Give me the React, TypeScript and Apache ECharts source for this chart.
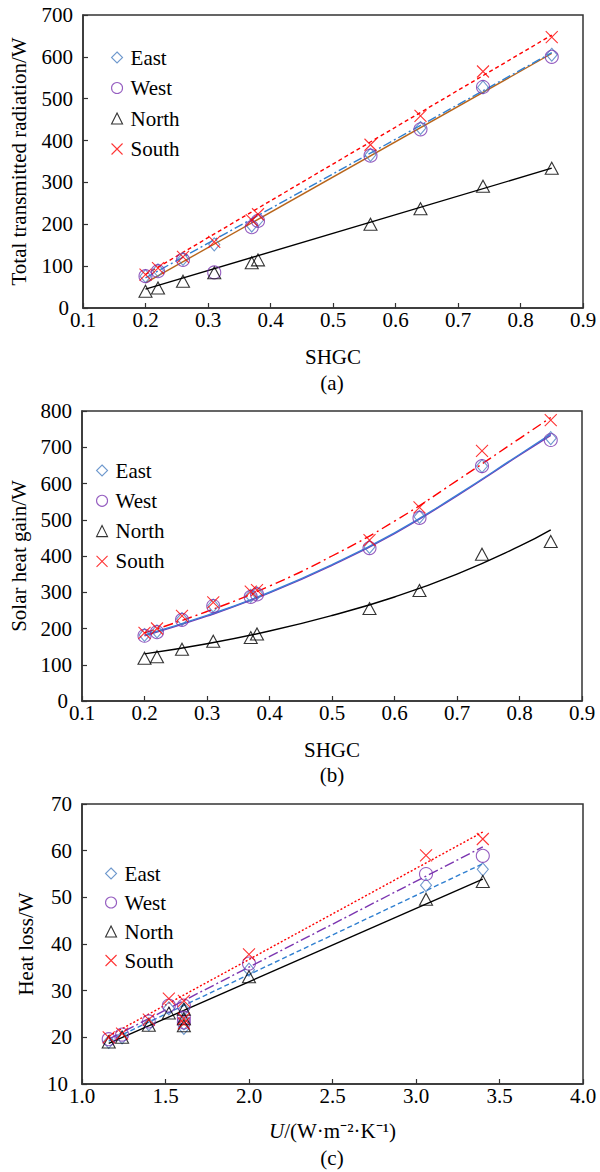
import React, { useEffect, useRef } from 'react';
import * as echarts from 'echarts';

// ---------- Panel (a): total transmitted radiation ----------
const shgc = [0.2, 0.22, 0.26, 0.31, 0.37, 0.38, 0.56, 0.64, 0.74, 0.85];
const radEast = [76, 90, 117, 152, 197, 210, 366, 430, 527, 605];
const radWest = [76, 88, 115, 85, 193, 208, 364, 427, 528, 600];
const radNorth = [40, 48, 64, 84, 108, 115, 200, 237, 291, 334];
const radSouth = [80, 95, 122, 158, 210, 224, 390, 459, 565, 647];
const radFitX = [0.2, 0.85];
const radFitEast = [72, 610];
const radFitWest = [60, 608];
const radFitNorth = [45, 334];
const radFitSouth = [80, 652];

// ---------- Panel (b): solar heat gain ----------
const gainEast = [182, 192, 226, 263, 290, 297, 425, 508, 648, 725];
const gainWest = [180, 190, 224, 262, 287, 294, 422, 505, 648, 720];
const gainNorth = [118, 122, 143, 165, 175, 185, 255, 305, 405, 440];
const gainSouth = [188, 200, 235, 272, 302, 306, 444, 534, 690, 775];
const gainCurveX = [0.2, 0.3, 0.4, 0.5, 0.6, 0.7, 0.8, 0.85];
const gainCurveEast = [182, 236, 300, 376, 464, 568, 680, 736];
const gainCurveWest = [180, 234, 298, 374, 462, 566, 678, 733];
const gainCurveNorth = [130, 158, 193, 236, 287, 350, 427, 472];
const gainCurveSouth = [188, 247, 317, 400, 496, 608, 724, 782];

// ---------- Panel (c): heat loss ----------
const uValues = [1.16, 1.24, 1.4, 1.52, 1.61, 1.61, 1.61, 2.0, 3.06, 3.4];
const lossEast = [19.0, 20.0, 22.8, 26.2, 26.0, 23.0, 22.0, 34.5, 52.6, 56.0];
const lossWest = [19.6, 20.6, 23.4, 26.8, 26.8, 24.2, 23.2, 35.8, 55.0, 58.9];
const lossNorth = [19.0, 20.0, 22.6, 25.2, 26.0, 24.0, 22.5, 33.0, 49.6, 53.4];
const lossSouth = [20.0, 20.8, 23.8, 28.3, 27.8, 24.0, 23.0, 37.8, 59.0, 62.5];
const lossFitX = [1.16, 3.4];
const lossFitEast = [19.2, 57.2];
const lossFitWest = [19.6, 60.8];
const lossFitNorth = [18.7, 53.9];
const lossFitSouth = [20.3, 64.0];

// ---------- axes ----------
const shgcAxis = [0.1, 0.9, 0.1];
const uAxis = [1.0, 4.0, 0.5];
const radAxis = [0, 700, 100];
const gainAxis = [0, 800, 100];
const lossAxis = [10, 70, 10];

const orientations = ['East', 'West', 'North', 'South'];
const panelLabels = ['(a)', '(b)', '(c)'];

const FONT = 'Liberation Serif';
const FS = 21;
const AX = '#333';

const COLORS: Record<string, string> = {
  East: '#4A7EC0',
  West: '#7B35B0',
  North: '#000000',
  South: '#FF0000',
};
const SYMBOLS: Record<string, string> = {
  East: 'diamond',
  West: 'circle',
  North: 'triangle',
  South: 'path://M0,0L10,10M10,0L0,10',
};
const SIZES: Record<string, number[]> = {
  East: [11, 13],
  West: [13, 13],
  North: [13, 12],
  South: [12, 12],
};

function pairs(xs: number[], ys: number[]) {
  return xs.map((x, i) => [x, ys[i]]);
}

function scatter(name: string, xs: number[], ys: number[], gi: number) {
  return {
    type: 'scatter',
    name,
    xAxisIndex: gi,
    yAxisIndex: gi,
    data: pairs(xs, ys),
    symbol: SYMBOLS[name],
    symbolSize: SIZES[name],
    itemStyle: { color: 'rgba(0,0,0,0)', borderColor: COLORS[name], borderWidth: 1.1 },
    emphasis: { disabled: true },
    z: 5,
  };
}

function fit(xs: number[], ys: number[], gi: number, color: string, type: any, smooth = false, width = 1.4) {
  return {
    type: 'line',
    name: 'fit',
    xAxisIndex: gi,
    yAxisIndex: gi,
    data: pairs(xs, ys),
    showSymbol: false,
    symbol: 'none',
    smooth,
    lineStyle: { color, width, type },
    emphasis: { disabled: true },
    z: 3,
  };
}

const grids = [
  { left: 82, top: 15, width: 501, height: 293 },
  { left: 82, top: 411, width: 500, height: 290 },
  { left: 82, top: 804, width: 501, height: 280 },
];

function xAxisCfg(gi: number, range: number[], name: any, gap: number, rich?: any) {
  return {
    type: 'value',
    gridIndex: gi,
    min: range[0],
    max: range[1],
    interval: range[2],
    name,
    nameLocation: 'middle',
    nameGap: gap,
    nameTextStyle: { fontFamily: FONT, fontSize: FS, color: '#000', rich },
    axisLine: { show: true, onZero: false, lineStyle: { color: AX, width: 1.5 } },
    axisTick: { show: true, inside: true, length: 5, lineStyle: { color: AX, width: 1.2 } },
    axisLabel: {
      fontFamily: FONT,
      fontSize: FS,
      color: '#000',
      margin: 1,
      formatter: (v: number) => v.toFixed(1),
    },
    splitLine: { show: false },
  };
}

function yAxisCfg(gi: number, range: number[], name: string, gap: number) {
  return {
    type: 'value',
    gridIndex: gi,
    min: range[0],
    max: range[1],
    interval: range[2],
    name,
    nameLocation: 'middle',
    nameGap: gap,
    nameTextStyle: { fontFamily: FONT, fontSize: FS, color: '#000' },
    axisLine: { show: true, onZero: false, lineStyle: { color: AX, width: 1.5 } },
    axisTick: { show: true, inside: true, length: 5, lineStyle: { color: AX, width: 1.2 } },
    axisLabel: {
      fontFamily: FONT,
      fontSize: FS,
      color: '#000',
      margin: 10,
      formatter: (v: number) => (v === range[0] ? `{lo|${v}}` : `${v}`),
      rich: { lo: { fontFamily: FONT, fontSize: FS, color: '#000', padding: [0, 4, 0, 0] } },
    },
    splitLine: { show: false },
  };
}

function legendCfg(left: number, top: number, gap: number) {
  return {
    orient: 'vertical',
    left,
    top,
    padding: 0,
    itemGap: gap,
    itemWidth: 11,
    itemHeight: 11,
    data: orientations,
    selectedMode: false,
    itemStyle: { borderWidth: 1.1 },
    textStyle: { fontFamily: FONT, fontSize: FS, color: '#000', padding: [0, 0, 0, 3] },
  };
}

export default function App() {
  const ref = useRef<HTMLDivElement>(null);
  useEffect(() => {
    if (!ref.current) return;
    const chart = echarts.init(ref.current, undefined, { renderer: 'svg' });

    const gainData = [gainEast, gainWest, gainNorth, gainSouth];
    const radData = [radEast, radWest, radNorth, radSouth];
    const lossData = [lossEast, lossWest, lossNorth, lossSouth];

    const series: any[] = [
      // panel a fits
      fit(radFitX, radFitNorth, 0, '#000', 'solid'),
      fit(radFitX, radFitWest, 0, '#B8651B', 'solid'),
      fit(radFitX, radFitEast, 0, '#2F7FD0', [9, 3, 2, 3]),
      fit(radFitX, radFitSouth, 0, '#FF0000', [4, 3]),
      // panel b curves
      fit(gainCurveX, gainCurveNorth, 1, '#000', 'solid', true),
      fit(gainCurveX, gainCurveWest, 1, '#7B35B0', 'solid', true),
      fit(gainCurveX, gainCurveEast, 1, '#3B7FD6', 'solid', true),
      fit(gainCurveX, gainCurveSouth, 1, '#FF0000', [10, 4, 2, 4], true),
      // panel c fits
      fit(lossFitX, lossFitNorth, 2, '#000', 'solid'),
      fit(lossFitX, lossFitEast, 2, '#2F7FD0', [5, 3]),
      fit(lossFitX, lossFitWest, 2, '#7B35B0', [10, 3, 2, 3]),
      fit(lossFitX, lossFitSouth, 2, '#FF0000', [2, 2]),
    ];
    orientations.forEach((o, i) => {
      series.push(scatter(o, shgc, radData[i], 0));
      series.push(scatter(o, shgc, gainData[i], 1));
      series.push(scatter(o, uValues, lossData[i], 2));
    });

    const subY = [383, 775, 1158];

    chart.setOption({
      animation: false,
      backgroundColor: '#fff',
      textStyle: { fontFamily: FONT },
      grid: grids.map((g) => ({ ...g, show: true, borderColor: AX, borderWidth: 1.5, backgroundColor: 'transparent' })),
      xAxis: [
        xAxisCfg(0, shgcAxis, 'SHGC', 38),
        xAxisCfg(1, shgcAxis, 'SHGC', 38),
        xAxisCfg(2, uAxis, '{i|U}/(W·m⁻²·K⁻¹)', 36, {
          i: { fontFamily: FONT, fontSize: FS, color: '#000', fontStyle: 'italic' },
        }),
      ],
      yAxis: [
        yAxisCfg(0, radAxis, 'Total transmitted radiation/W', 54),
        yAxisCfg(1, gainAxis, 'Solar heat gain/W', 50),
        yAxisCfg(2, lossAxis, 'Heat loss/W', 40),
      ],
      legend: [legendCfg(111, 47, 9.5), legendCfg(96, 460, 9.3), legendCfg(105, 863, 8)],
      graphic: panelLabels.map((t, i) => ({
        type: 'text',
        x: 332,
        y: subY[i],
        style: {
          text: t,
          fontFamily: FONT,
          fontSize: FS,
          fill: '#000',
          textAlign: 'center',
          textVerticalAlign: 'middle',
        },
      })),
      series,
    });
    return () => chart.dispose();
  }, []);

  return (
    <div
      ref={ref}
      style={{ position: 'absolute', left: 0, top: 0, width: 600, height: 1172, background: '#fff' }}
    />
  );
}
